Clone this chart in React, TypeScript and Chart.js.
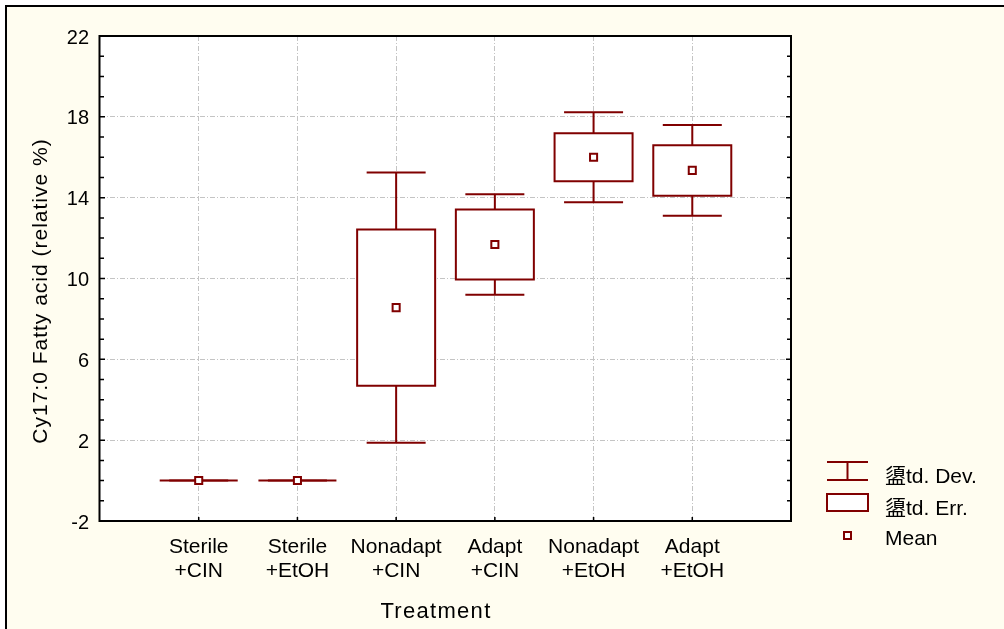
import { useEffect, useRef } from "react";
import { Chart, registerables } from "chart.js";

Chart.register(...registerables);

// Treatment groups (two-line category labels)
const treatments: string[][] = [
  ["Sterile", "+CIN"],
  ["Sterile", "+EtOH"],
  ["Nonadapt", "+CIN"],
  ["Adapt", "+CIN"],
  ["Nonadapt", "+EtOH"],
  ["Adapt", "+EtOH"],
];

// Cy17:0 fatty acid, relative %
const meanValues = [0, 0, 8.56, 11.68, 16.0, 15.35];
const stdErrValues = [0, 0, 3.87, 1.73, 1.19, 1.25];
const stdDevValues = [0, 0, 6.69, 2.49, 2.23, 2.24];

const yTickValues = [-2, 2, 6, 10, 14, 18, 22];
const yMinorStep = 1;

const legendLabels = ["盨td. Dev.", "盨td. Err.", "Mean"];
const yAxisTitle = "Cy17:0 Fatty acid (relative %)";
const xAxisTitle = "Treatment";

const DARK_RED = "#800000";
const CREAM = "#fffdf0";
const GRID = "#c4c4c4";
const FONT = "'Liberation Sans', Arial, 'Noto Sans CJK SC', sans-serif";

const BOX_HALF = 39; // px
const CAP_HALF = 29.5; // px

const statPlugin = {
  id: "statPlot",
  beforeDraw(chart: any) {
    const { ctx, chartArea: a, width, height } = chart;
    ctx.save();
    ctx.fillStyle = "#ffffff";
    ctx.fillRect(0, 0, width, height);
    ctx.fillStyle = CREAM;
    ctx.fillRect(6, 6, width, height);
    ctx.strokeStyle = "#000";
    ctx.lineWidth = 2;
    ctx.beginPath();
    ctx.moveTo(6, height + 2);
    ctx.lineTo(6, 6);
    ctx.lineTo(width + 2, 6);
    ctx.stroke();
    ctx.fillStyle = "#ffffff";
    ctx.fillRect(a.left, a.top, a.right - a.left, a.bottom - a.top);
    ctx.restore();
  },
  beforeDatasetsDraw(chart: any) {
    const { ctx, scales } = chart;
    const xs = scales.x;
    const ys = scales.y;
    ctx.save();
    ctx.strokeStyle = DARK_RED;
    ctx.lineWidth = 2;
    ctx.fillStyle = "#ffffff";
    meanValues.forEach((m, i) => {
      const cx = xs.getPixelForValue(i + 1);
      const se = stdErrValues[i];
      const sd = stdDevValues[i];
      const boxTop = ys.getPixelForValue(m + se);
      const boxBot = ys.getPixelForValue(m - se);
      const capTop = ys.getPixelForValue(m + sd);
      const capBot = ys.getPixelForValue(m - sd);
      // whiskers
      ctx.beginPath();
      ctx.moveTo(cx, boxTop);
      ctx.lineTo(cx, capTop);
      ctx.moveTo(cx - CAP_HALF, capTop);
      ctx.lineTo(cx + CAP_HALF, capTop);
      ctx.moveTo(cx, boxBot);
      ctx.lineTo(cx, capBot);
      ctx.moveTo(cx - CAP_HALF, capBot);
      ctx.lineTo(cx + CAP_HALF, capBot);
      ctx.stroke();
      // standard error box
      if (boxBot - boxTop > 0.5) {
        ctx.fillRect(cx - BOX_HALF, boxTop, BOX_HALF * 2, boxBot - boxTop);
      }
      ctx.beginPath();
      ctx.moveTo(cx - BOX_HALF, boxTop);
      ctx.lineTo(cx + BOX_HALF, boxTop);
      ctx.lineTo(cx + BOX_HALF, boxBot);
      ctx.lineTo(cx - BOX_HALF, boxBot);
      ctx.closePath();
      ctx.stroke();
    });
    ctx.restore();
  },
  afterDraw(chart: any) {
    const { ctx, chartArea: a, scales } = chart;
    const ys = scales.y;
    const xs = scales.x;
    ctx.save();

    // plot frame
    ctx.strokeStyle = "#000";
    ctx.lineWidth = 2;
    ctx.strokeRect(a.left - 0.5, a.top, a.right - a.left + 0.5, a.bottom - a.top);

    // inward minor ticks on left and right axes
    ctx.lineWidth = 1.5;
    ctx.beginPath();
    for (let v = ys.min; v <= ys.max; v += yMinorStep) {
      const y = ys.getPixelForValue(v);
      const len = yTickValues.includes(v) ? 5 : 4;
      ctx.moveTo(a.left, y);
      ctx.lineTo(a.left + len, y);
      ctx.moveTo(a.right, y);
      ctx.lineTo(a.right - len, y);
    }
    treatments.forEach((_, i) => {
      const x = xs.getPixelForValue(i + 1);
      ctx.moveTo(x, a.bottom);
      ctx.lineTo(x, a.bottom - 4);
    });
    ctx.stroke();

    // axis titles
    ctx.fillStyle = "#000";
    ctx.textAlign = "center";
    ctx.textBaseline = "alphabetic";
    ctx.font = `21px ${FONT}`;
    (ctx as any).letterSpacing = "1px";
    ctx.save();
    ctx.translate(47, 291);
    ctx.rotate(-Math.PI / 2);
    ctx.fillText(yAxisTitle, 0, 0);
    ctx.restore();
    ctx.font = `22px ${FONT}`;
    (ctx as any).letterSpacing = "1.3px";
    ctx.fillText(xAxisTitle, 436, 618);
    (ctx as any).letterSpacing = "0px";

    // legend
    const gx0 = 827;
    const gx1 = 868;
    const gc = (gx0 + gx1) / 2;
    ctx.strokeStyle = DARK_RED;
    ctx.lineWidth = 2;
    ctx.beginPath();
    ctx.moveTo(gx0, 462);
    ctx.lineTo(gx1, 462);
    ctx.moveTo(gx0, 480);
    ctx.lineTo(gx1, 480);
    ctx.moveTo(gc, 462);
    ctx.lineTo(gc, 480);
    ctx.stroke();
    ctx.fillStyle = "#ffffff";
    ctx.fillRect(gx0, 494, gx1 - gx0, 17);
    ctx.strokeRect(gx0, 494, gx1 - gx0, 17);
    ctx.fillRect(gc - 3.5, 532, 7, 7);
    ctx.strokeRect(gc - 3.5, 532, 7, 7);

    ctx.fillStyle = "#000";
    ctx.textAlign = "left";
    ctx.font = `21px ${FONT}`;
    const baselines = [483, 514.5, 545];
    legendLabels.forEach((t, i) => ctx.fillText(t, 885, baselines[i]));

    ctx.restore();
  },
};

export default function App() {
  const canvasRef = useRef<HTMLCanvasElement | null>(null);

  useEffect(() => {
    const canvas = canvasRef.current;
    if (!canvas) return;
    const chart = new Chart(canvas, {
      type: "scatter",
      data: {
        datasets: [
          {
            label: "Mean",
            data: meanValues.map((m, i) => ({ x: i + 1, y: m })),
            pointStyle: "rect",
            pointRadius: 5,
            pointHoverRadius: 5,
            borderWidth: 2,
            borderColor: DARK_RED,
            backgroundColor: "#ffffff",
          },
        ],
      },
      options: {
        animation: false,
        responsive: false,
        events: [],
        layout: { padding: { left: 0, top: 36, right: 213, bottom: 0 } },
        plugins: {
          legend: { display: false },
          tooltip: { enabled: false },
          title: { display: false },
        },
        scales: {
          x: {
            type: "linear",
            min: 0,
            max: treatments.length + 1,
            afterBuildTicks: (scale: any) => {
              scale.ticks = treatments.map((_, i) => ({ value: i + 1 }));
            },
            afterFit: (scale: any) => {
              scale.height = 108;
            },
            ticks: {
              autoSkip: false,
              maxRotation: 0,
              minRotation: 0,
              padding: 14,
              color: "#000",
              font: { family: FONT, size: 21, lineHeight: 1.14 },
              callback: (value: any) => treatments[Math.round(value) - 1] ?? "",
            },
            grid: { color: GRID, lineWidth: 1, drawTicks: false },
            border: { display: false, dash: [5, 2, 1, 2] },
          },
          y: {
            type: "linear",
            min: yTickValues[0],
            max: yTickValues[yTickValues.length - 1],
            afterBuildTicks: (scale: any) => {
              scale.ticks = yTickValues.map((v) => ({ value: v }));
            },
            afterFit: (scale: any) => {
              scale.width = 100;
            },
            ticks: {
              padding: 11,
              labelOffset: 2,
              color: "#000",
              font: { family: FONT, size: 20 },
              callback: (value: any) => String(value),
            },
            grid: { color: GRID, lineWidth: 1, drawTicks: false },
            border: { display: false, dash: [5, 2, 1, 2] },
          },
        },
      },
      plugins: [statPlugin],
    });
    return () => chart.destroy();
  }, []);

  return (
    <div style={{ position: "absolute", left: 0, top: 0, width: 1004, height: 629 }}>
      <canvas ref={canvasRef} width={1004} height={629} style={{ display: "block" }} />
    </div>
  );
}
